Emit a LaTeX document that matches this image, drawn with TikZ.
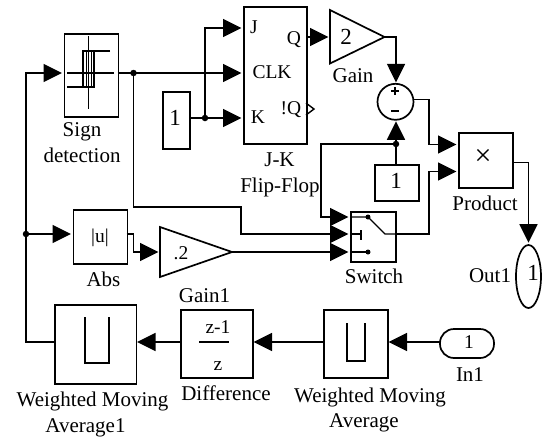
\documentclass[tikz,border=0pt]{standalone}
\usepackage{fontspec}
\setmainfont{Liberation Serif}
\usetikzlibrary{arrows.meta,shapes.geometric,calc}
\tikzset{
  wire/.style={line width=1.7pt,line join=miter},
  arr/.style={wire,-{Triangle[length=18.5pt,width=18pt]},shorten >=1.5pt},
  block/.style={draw,line width=1.7pt,inner sep=0pt,rectangle,anchor=north west},
  lbl/.style={anchor=base,inner sep=0pt,font=\fontsize{21}{24}\selectfont},
  txt/.style={anchor=base,inner sep=0pt,font=\fontsize{19.5}{24}\selectfont},
  big/.style={anchor=base,inner sep=0pt,font=\fontsize{23}{24}\selectfont},
  dot/.style={circle,fill=black,inner sep=0pt,minimum size=6.5pt},
  icon/.style={line width=1.4pt}
}
\newcommand{\blk}[5]{\node[block,minimum width={(#4)*1pt-(#2)*1pt},minimum height={(#5)*1pt-(#3)*1pt}] (#1) at (#2,#3) {};}
\begin{document}
\begin{tikzpicture}[x=1pt,y=-1pt]
\useasboundingbox (0,0) rectangle (542,440);
% blocks
\blk{sign}{63.5}{33}{117.5}{116}
\blk{jk}{243}{6}{306}{143}
\blk{cl}{162}{91}{189}{148}
\blk{cr}{374}{164}{418}{200}
\blk{prod}{458}{132}{512}{187}
\blk{sw}{350}{211}{395}{261}
\blk{abs}{72.5}{209}{126.5}{263}
\blk{wmaa}{54}{304}{135.5}{383}
\blk{diff}{180}{309}{252}{377}
\blk{wma}{323}{309}{387}{377}
\node[circle,draw,line width=1.7pt,minimum size=36pt,inner sep=0pt] (sum) at (395.5,101.8) {};
\node[ellipse,draw,line width=1.7pt,minimum width=25pt,minimum height=63pt,inner sep=0pt] (out) at (528.5,276.5) {};
\node[draw,line width=1.7pt,rounded corners=14pt,minimum width=54pt,minimum height=29pt,inner sep=0pt] (in) at (467,343.5) {};
% gains
\coordinate (g1) at (330,10); \coordinate (g2) at (330,63.5); \coordinate (gainout) at (384.5,37);
\draw[wire] (g1) -- (gainout) -- (g2) -- cycle;
\coordinate (h1) at (160,227); \coordinate (h2) at (160,277); \coordinate (gainaout) at (232,252);
\draw[wire] (h1) -- (gainaout) -- (h2) -- cycle;
% icons
\draw[icon] (88.5,36) -- (88.5,109);
\draw[icon] (67,73) -- (114,73);
\draw[icon] (110,51) -- (83,51) -- (83,87);
\draw[icon] (67,87) -- (94,87) -- (94,51);
\draw[line width=.7pt] (86,51) -- (86,87) (91,51) -- (91,87);
\draw[icon] (85,317) -- (85,363) -- (109,363) -- (109,317);
\draw[icon] (347,323) -- (347,361) -- (365,361) -- (365,323);
\draw[icon] (199,342) -- (229,342);
\draw[icon] (306,103) -- (314,109) -- (306,115);
\draw[icon] (391,91) -- (399,91) (395,87) -- (395,95);
\draw[icon] (391,111) -- (399,111);
% switch internals
\draw[icon] (350,217) -- (368,217) -- (385,234) -- (395,234);
\draw[icon] (350,234) -- (361,234) (361,230) -- (361,240);
\draw[icon] (350,252) -- (368,252);
\fill (368,217) circle (2.5pt) (368,252) circle (2.5pt);
% junctions
\node[dot] (d1) at (133.5,73) {};
\node[dot] (d2) at (205,118) {};
\node[dot] (d3) at (396,144) {};
\node[dot] (d4) at (26,234) {};
% port coordinates
\coordinate (pJ) at (243,28); \coordinate (pC) at (243,73); \coordinate (pK) at (243,118);
\coordinate (pQ) at (306,37); \coordinate (pg) at (330,37);
\coordinate (s1) at (350,217); \coordinate (s2) at (350,234); \coordinate (s3) at (350,252);
\coordinate (pa) at (458,144.5); \coordinate (pb) at (458,171.5);
\coordinate (cro) at (189,118);
\coordinate (hin) at (160,252);
\coordinate (signin) at (63.5,73); \coordinate (signout) at (117.5,73);
\coordinate (absin) at (72.5,234); \coordinate (absout) at (126.5,234);
\coordinate (sumout) at (414,99.5);
\coordinate (prodout) at (512,162.5);
\coordinate (inw) at (440,342);
\coordinate (wmae) at (387,342); \coordinate (wmaw) at (323,342);
\coordinate (diffe) at (252,342); \coordinate (diffw) at (180,342);
\coordinate (wmaae) at (135.5,342); \coordinate (wmaaw) at (54,342);
\coordinate (crn) at (396,164); \coordinate (sums) at (396,119.8);
\coordinate (sumn) at (396,83.8);
\coordinate (swe) at (395,234);
% connectors
\draw[arr] (signout) -- (pC);
\draw[arr] (cro) -- (pK);
\draw[arr] (d2.center) |- (pJ);
\draw[arr] (pQ) -- (pg);
\draw[arr] (gainout) -| (sumn);
\draw[arr] (crn) -- (sums);
\draw[arr] (d3.center) -- ++(-75,0) |- (s1);
\draw[arr] (d1.center) |- ($(s2)+(-109,-27)$) |- (s2);
\draw[arr] (gainaout) -- (s3);
\draw[arr] (sumout) -| ($(pa)+(-29,0)$) -- (pa);
\draw[arr] (swe) -| ($(pb)+(-29,0)$) -- (pb);
\draw[arr] (prodout) -| (out.north);
\draw[arr] (inw) -- (wmae);
\draw[arr] (wmaw) -- (diffe);
\draw[arr] (diffw) -- (wmaae);
\draw[arr] (wmaaw) -- ++(-28,0) |- (signin);
\draw[arr] (d4.center) -- (absin);
\draw[arr] (absout) -- ++(7,0) |- (hin);
% block text
\node[txt] (tj) at (254,33) {J};
\node[txt] (tc) at (272,78) {CLK};
\node[txt] (tk) at (258,123) {K};
\node[txt] (tq) at (294,44) {Q};
\node[txt] (tnq) at (291,114) {!Q};
\node[big] (t1a) at (175,125) {1};
\node[big] (t2) at (346,44) {2};
\node[big] (t1b) at (396,188) {1};
\node[txt] (tu) at (100,242) {|u|};
\node[txt] (tp2) at (181,259) {.2};
\node[txt] (tz1) at (218,333) {z-1};
\node[txt] (tz) at (218,370) {z};
\node[big] (t1o) at (533,280) {1};
\node[txt] (t1i) at (469,348) {1};
\node[anchor=base,inner sep=0pt,font=\fontsize{30}{30}\selectfont] (tx) at (483,165) {×};
% labels
\node[lbl] (l1) at (82,136) {Sign};
\node[lbl] (l2) at (82,162) {detection};
\node[lbl] (l3) at (279.5,166) {J-K};
\node[lbl] (l4) at (280,192.5) {Flip-Flop};
\node[lbl] (l5) at (353,82) {Gain};
\node[lbl] (l6) at (485,210) {Product};
\node[lbl] (l7) at (374,283) {Switch};
\node[lbl] (l8) at (490,282) {Out1};
\node[lbl] (l9) at (470,381) {In1};
\node[lbl] (l10) at (370,402) {Weighted Moving};
\node[lbl] (l11) at (364,427) {Average};
\node[lbl] (l12) at (92.5,406) {Weighted Moving};
\node[lbl] (l13) at (85.5,432) {Average1};
\node[lbl] (l14) at (226,400) {Difference};
\node[lbl] (l15) at (204.5,302) {Gain1};
\node[lbl] (l16) at (103.5,286) {Abs};
\end{tikzpicture}
\end{document}
